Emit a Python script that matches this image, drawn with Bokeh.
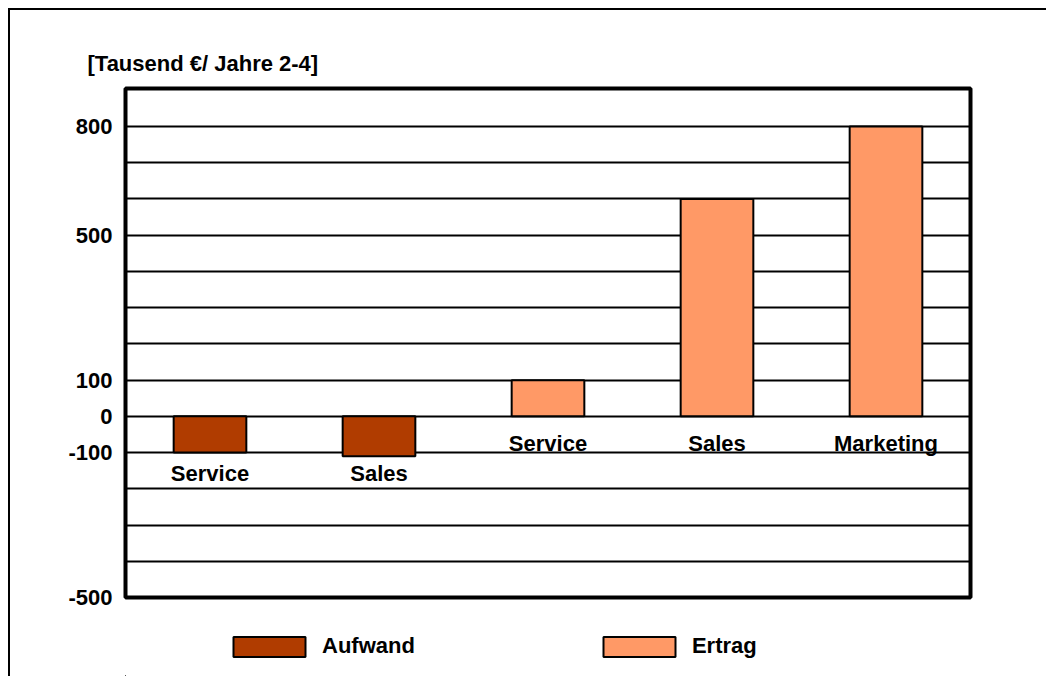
from bokeh.plotting import figure
from bokeh.layouts import column
from bokeh.models import FixedTicker, Title, Legend, LegendItem, ColumnDataSource, Range1d
from bokeh.core.properties import value
from bokeh.embed import file_html
from bokeh.resources import INLINE

# ---- data ----
categories = ["Service", "Sales", "Service", "Sales", "Marketing"]
series = ["Aufwand", "Aufwand", "Ertrag", "Ertrag", "Ertrag"]
values = [-100, -110, 100, 600, 800]
y_tick_labels = [800, 500, 100, 0, -100, -500]
grid_values = [-400, -300, -200, -100, 0, 100, 200, 300, 400, 500, 600, 700, 800]
series_names = ["Aufwand", "Ertrag"]
series_colors = ["#B03C00", "#FF9966"]
unit_label = "[Tausend €/ Jahre 2-4]"

FONT = "Liberation Sans"
SIZE = "22px"

p = figure(frame_width=843, frame_height=507,
           min_border_left=115, min_border_right=78,
           min_border_top=78, min_border_bottom=21,
           x_range=Range1d(0.5, 5.5), y_range=Range1d(-500, 905),
           output_backend="svg", toolbar_location=None, tools="")
p.styles = {"border-top": "2px solid black", "border-left": "2px solid black",
            "margin-left": "8px", "margin-top": "8px"}

p.outline_line_color = "black"
p.outline_line_width = 4
p.xgrid.visible = False
p.ygrid.ticker = FixedTicker(ticks=grid_values)
p.ygrid.grid_line_color = "black"
p.ygrid.grid_line_width = 2
p.ygrid.grid_line_alpha = 1.0
p.xaxis.visible = False

ya = p.yaxis[0]
ya.ticker = FixedTicker(ticks=y_tick_labels)
ya.major_label_overrides = {v: str(v) for v in y_tick_labels}
ya.major_tick_line_color = None
ya.minor_tick_line_color = None
ya.axis_line_color = None
ya.major_label_standoff = 7
ya.major_label_text_font = FONT
ya.major_label_text_font_style = "bold"
ya.major_label_text_font_size = SIZE
ya.major_label_text_color = "black"

xs = list(range(1, len(categories) + 1))
label_anchor = {"Aufwand": (-100, 21), "Ertrag": (0, 27)}

sources = {}
for name, color in zip(series_names, series_colors):
    idx = [i for i, s in enumerate(series) if s == name]
    src = ColumnDataSource(dict(
        x=[xs[i] for i in idx],
        top=[values[i] for i in idx],
        cat=[categories[i] for i in idx],
        ly=[label_anchor[name][0] for i in idx],
    ))
    sources[name] = src
    p.vbar(x="x", top="top", bottom=0, width=0.43, source=src,
           fill_color=color, line_color="black", line_width=2)
    p.text(x="x", y="ly", text="cat", source=src, text_align="center",
           text_baseline="middle", y_offset=label_anchor[name][1],
           text_font=value(FONT), text_font_style="bold",
           text_font_size=SIZE, text_color="black")

title = Title(text=unit_label, align="left", offset=-38, standoff=25,
              text_font=FONT, text_font_style="bold", text_font_size=SIZE,
              text_color="black")
p.add_layout(title, "above")

# ---- legend strip below the chart (its ranges lie beyond all bar positions
#      and values, so the bars stay out of view; only the swatches show) ----
lf = figure(frame_width=1030, frame_height=60, min_border=0,
            x_range=Range1d(6.5, 7.5), y_range=Range1d(850, 900),
            output_backend="svg", toolbar_location=None, tools="")
lf.styles = {"border-left": "2px solid black", "margin-left": "8px"}
lf.axis.visible = False
lf.grid.visible = False
lf.outline_line_color = None

legend_items = []
for name, color in zip(series_names, series_colors):
    r = lf.vbar(x="x", top="top", bottom=0, width=0.43, source=sources[name],
                fill_color=color, line_color="black", line_width=2)
    legend_items.append(LegendItem(label=name, renderers=[r]))

legend = Legend(items=legend_items, orientation="horizontal", location=(214, 17),
                glyph_width=90, glyph_height=25, label_standoff=8, spacing=179,
                padding=0, margin=0, border_line_color=None,
                background_fill_alpha=0,
                label_text_font=FONT, label_text_font_style="bold",
                label_text_font_size=SIZE, label_text_color="black")
lf.add_layout(legend)

layout = column(p, lf, spacing=0)
open("out.html", "w").write(file_html(layout, INLINE))
